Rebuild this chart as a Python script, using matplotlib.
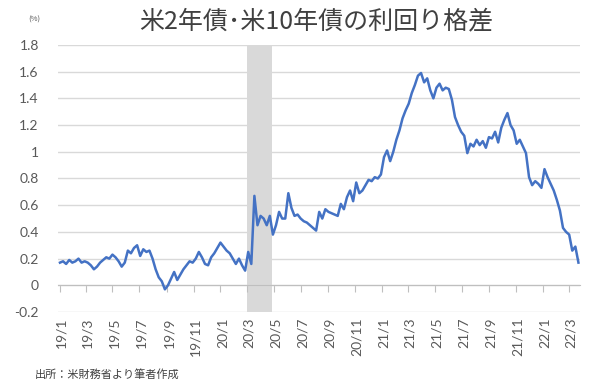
import matplotlib
matplotlib.use('Agg')
import matplotlib.pyplot as plt
import matplotlib.transforms as mtransforms
import numpy as np
import pandas as pd

# 2s10s spread (%), weekly readings
spread_2019 = [0.17, 0.18, 0.16, 0.19, 0.17, 0.18, 0.20, 0.17, 0.18, 0.17, 0.15, 0.12, 0.14,
               0.17, 0.19, 0.21, 0.20, 0.23, 0.21, 0.18, 0.14, 0.17, 0.26, 0.24, 0.28, 0.30,
               0.22, 0.27, 0.25, 0.26, 0.20, 0.12, 0.06, 0.03, -0.03, 0.00, 0.05, 0.10, 0.04,
               0.08, 0.12, 0.15, 0.18, 0.17, 0.20, 0.25, 0.21, 0.16, 0.15, 0.21, 0.24, 0.28, 0.32]
spread_2020 = [0.29, 0.26, 0.24, 0.20, 0.16, 0.20, 0.15, 0.11, 0.25, 0.16, 0.67, 0.45, 0.52,
               0.50, 0.45, 0.52, 0.38, 0.45, 0.55, 0.50, 0.50, 0.69, 0.58, 0.52, 0.53, 0.50,
               0.48, 0.47, 0.45, 0.43, 0.41, 0.55, 0.50, 0.57, 0.55, 0.54, 0.53, 0.52, 0.61,
               0.57, 0.66, 0.71, 0.63, 0.77, 0.69, 0.71, 0.75, 0.79, 0.78, 0.81, 0.80, 0.83]
spread_2021 = [0.96, 1.01, 0.93, 1.00, 1.09, 1.16, 1.25, 1.31, 1.36, 1.44, 1.50, 1.57, 1.59,
               1.52, 1.55, 1.46, 1.40, 1.48, 1.51, 1.46, 1.48, 1.47, 1.39, 1.26, 1.20, 1.15,
               1.12, 0.99, 1.06, 1.04, 1.09, 1.05, 1.08, 1.03, 1.11, 1.10, 1.15, 1.07, 1.18,
               1.24, 1.29, 1.20, 1.16, 1.06, 1.09, 1.04, 0.99, 0.81, 0.75, 0.78, 0.76, 0.73]
spread_2022 = [0.87, 0.81, 0.76, 0.71, 0.64, 0.56, 0.43, 0.40, 0.38, 0.26, 0.29, 0.17]

spread = spread_2019 + spread_2020 + spread_2021 + spread_2022
dates = pd.date_range('2019-01-02', periods=len(spread), freq='7D')

shade_start, shade_end = '2020-03-01', '2020-04-28'
tick_dates = pd.date_range('2019-01-01', '2022-03-01', freq='2MS')
tick_labels = [f'{d.year % 100}/{d.month}' for d in tick_dates]
yticks = [-0.2, 0, 0.2, 0.4, 0.6, 0.8, 1, 1.2, 1.4, 1.6, 1.8]

plt.rcParams['font.family'] = ['Noto Sans CJK JP', 'DejaVu Sans']
txt = '#595959'

fig = plt.figure(figsize=(6, 3.81), dpi=100)
ax = fig.add_axes([0.097, 0.181, 0.87, 0.701])

ax.axvspan(pd.Timestamp(shade_start), pd.Timestamp(shade_end), color='#d9d9d9', lw=0, zorder=0)
ax.plot(dates, spread, color='#4472c4', lw=1.8, zorder=3)

ax.set_ylim(-0.2, 1.8)
ax.set_xlim(pd.Timestamp('2018-12-29'), pd.Timestamp('2022-03-27'))
ax.set_yticks(yticks)
ax.set_yticklabels([f'{v:g}' for v in yticks], family='Lato', fontsize=10, color=txt)
ax.tick_params(axis='y', length=0, pad=14)
ax.grid(axis='y', color='#d9d9d9', lw=1)
ax.set_axisbelow(True)

for s in ['top', 'right', 'left']:
    ax.spines[s].set_visible(False)
ax.spines['bottom'].set_position(('data', 0))
ax.spines['bottom'].set_color('#bfbfbf')
ax.set_xticks(tick_dates)
ax.tick_params(axis='x', direction='out', length=5, color='#bfbfbf', labelbottom=False)

trans = mtransforms.blended_transform_factory(ax.transData, ax.transAxes)
for d, lab in zip(tick_dates, tick_labels):
    ax.text(d + pd.Timedelta(days=5), -0.02, lab, transform=trans, rotation=90,
            ha='center', va='top', fontsize=10, family='Lato', color=txt)

fig.text(0.527, 0.945, '米2年債･米10年債の利回り格差', ha='center', va='center',
         fontsize=18, color='#404040')
fig.text(0.058, 0.948, '(%)', ha='center', va='center', fontsize=5.5, color=txt)
fig.text(0.058, 0.016, '出所：米財務省より筆者作成', ha='left', va='center', fontsize=8,
         color='#404040')

fig.savefig('out.png', dpi=100)
